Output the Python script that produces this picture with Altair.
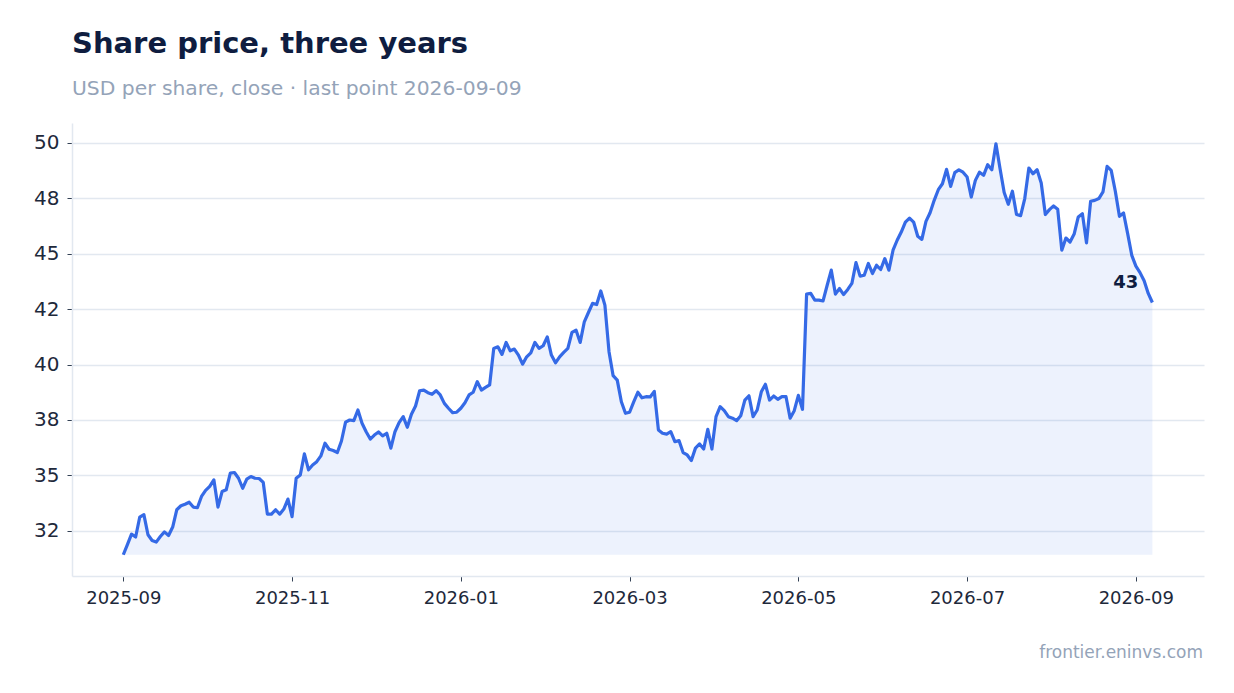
import altair as alt
import pandas as pd

title = "Share price, three years"
subtitle = "USD per share, close · last point 2026-09-09"
source = "frontier.eninvs.com"

first_day = "2025-09-01"
last_day = "2026-09-08"
close = [
    31.42, 31.88, 32.35, 32.22, 33.12, 33.23, 32.32, 32.06, 31.99, 32.24,
    32.45, 32.29, 32.67, 33.45, 33.63, 33.70, 33.79, 33.57, 33.54, 34.05,
    34.32, 34.50, 34.80, 33.57, 34.27, 34.35, 35.10, 35.13, 34.87, 34.42,
    34.83, 34.95, 34.87, 34.86, 34.68, 33.25, 33.25, 33.45, 33.25, 33.48,
    33.93, 33.14, 34.87, 35.02, 35.97, 35.25, 35.47, 35.62, 35.88, 36.45,
    36.18, 36.12, 36.03, 36.55, 37.40, 37.50, 37.47, 37.95, 37.35, 36.97,
    36.64, 36.82, 36.96, 36.78, 36.90, 36.23, 36.97, 37.38, 37.65, 37.17,
    37.76, 38.13, 38.82, 38.85, 38.73, 38.66, 38.82, 38.63, 38.25, 38.03,
    37.83, 37.85, 38.03, 38.28, 38.63, 38.75, 39.23, 38.85, 38.97, 39.08,
    40.73, 40.80, 40.46, 41.00, 40.62, 40.70, 40.43, 40.02, 40.35, 40.53,
    41.00, 40.73, 40.85, 41.25, 40.43, 40.08, 40.35, 40.55, 40.73, 41.45,
    41.55, 41.00, 41.93, 42.35, 42.76, 42.71, 43.32, 42.68, 40.58, 39.50,
    39.30, 38.32, 37.80, 37.85, 38.32, 38.75, 38.50, 38.55, 38.54, 38.79,
    37.05, 36.90, 36.86, 36.97, 36.52, 36.57, 36.03, 35.92, 35.67, 36.23,
    36.42, 36.19, 37.08, 36.19, 37.65, 38.10, 37.92, 37.65, 37.58, 37.47,
    37.69, 38.40, 38.59, 37.65, 37.95, 38.77, 39.11, 38.40, 38.58, 38.43,
    38.55, 38.55, 37.58, 37.92, 38.61, 37.98, 43.18, 43.21, 42.91, 42.91,
    42.87, 43.58, 44.26, 43.18, 43.43, 43.16, 43.39, 43.66, 44.60, 43.99,
    44.03, 44.56, 44.11, 44.48, 44.29, 44.78, 44.26, 45.16, 45.61, 45.98,
    46.43, 46.61, 46.43, 45.79, 45.65, 46.46, 46.85, 47.41, 47.89, 48.16,
    48.81, 48.04, 48.66, 48.79, 48.68, 48.46, 47.56, 48.31, 48.68, 48.54,
    49.02, 48.79, 49.96, 48.84, 47.76, 47.23, 47.82, 46.77, 46.72, 47.49,
    48.87, 48.61, 48.79, 48.19, 46.77, 46.99, 47.16, 47.01, 45.16, 45.71,
    45.53, 45.89, 46.66, 46.81, 45.49, 47.37, 47.41, 47.49, 47.79, 48.94,
    48.76, 47.82, 46.69, 46.84, 45.91, 44.93, 44.44, 44.15, 43.78, 43.21,
    42.80,
]

y_ticks = [32.5, 35, 37.5, 40, 42.5, 45, 47.5, 50]
y_labels = ["32", "35", "38", "40", "42", "45", "48", "50"]
# ticks sit every 61 days, labelled by month
x_ticks = ["2025-09-01", "2025-11-01", "2026-01-01", "2026-03-03",
           "2026-05-03", "2026-07-03", "2026-09-02"]

blue = "#356ae6"
navy = "#0f1d40"
muted = "#94a3b8"
grid = "#e2e8f0"

df = pd.DataFrame({
    "date": pd.date_range(first_day, last_day, periods=len(close)),
    "close": close,
})


def dt(s, hours=0):
    y, m, d = (int(p) for p in s.split("-"))
    return alt.DateTime(year=y, month=m, date=d, hours=hours)


label_expr = " : ".join(f"datum.value == {v} ? '{l}'" for v, l in zip(y_ticks, y_labels)) + " : datum.label"

base = alt.Chart(df).encode(
    alt.X("date:T")
        .scale(domain=[dt("2025-08-13", 11), dt("2026-09-26", 16)])
        .axis(values=[dt(s) for s in x_ticks], format="%Y-%m", grid=False,
              labelFontSize=18, labelPadding=8, tickSize=5)
        .title(None),
    alt.Y("close:Q")
        .scale(domain=[30.46, 50.9], nice=False, zero=False)
        .axis(values=y_ticks, labelExpr=label_expr, labelFontSize=20,
              labelPadding=8, tickSize=5, gridColor=grid)
        .title(None),
)

area = base.mark_area(color=blue, opacity=0.09).encode(
    y2="low:Q"
).transform_joinaggregate(low="min(close)")

line = base.mark_line(color=blue, strokeWidth=3.2, strokeJoin="round")

last = alt.Chart(df.tail(1)).mark_text(
    align="right", baseline="alphabetic", dx=-14, dy=-15,
    fontSize=18, fontWeight="bold", color=navy
).encode(x="date:T", y="close:Q", text=alt.Text("close:Q", format=".0f"))

footer = alt.Chart(pd.DataFrame({"t": [source]})).mark_text(
    align="right", baseline="alphabetic", fontSize=17, color=muted
).encode(x=alt.value(1131), y=alt.value(535), text="t:N")

chart = alt.layer(area, line, last, footer).properties(
    width=1132,
    height=453,
    autosize=alt.AutoSizeParams(type="none"),
    padding={"left": 64, "top": 115, "right": 22, "bottom": 100},
    title=alt.TitleParams(
        title, subtitle=subtitle, anchor="start", frame="group",
        fontSize=29, fontWeight="bold", color=navy,
        subtitleFontSize=20.3, subtitleColor=muted, subtitlePadding=20, offset=24,
    ),
).configure(font="DejaVu Sans").configure_view(stroke=None).configure_axis(
    labelColor="#1e293b", tickColor="#334155", domainColor=grid, domainWidth=1.5,
    gridWidth=1.5, labelFont="DejaVu Sans",
)

chart.save("out.html", embed_options={"renderer": "svg", "actions": False})
